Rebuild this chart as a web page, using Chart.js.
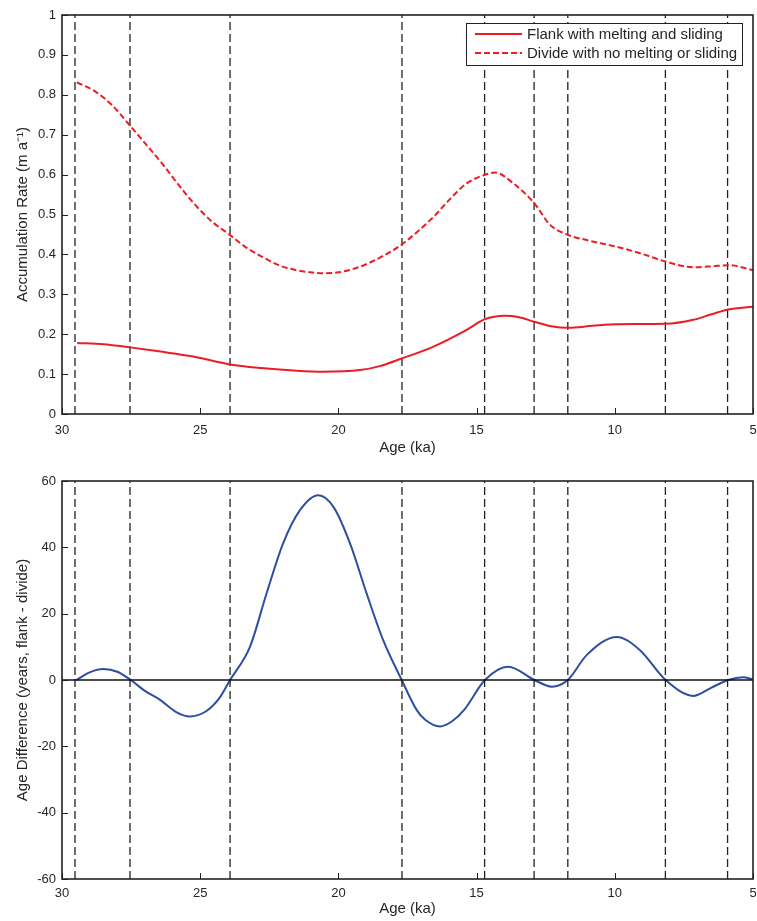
<!DOCTYPE html>
<html><head><meta charset="utf-8">
<script src="https://cdn.jsdelivr.net/npm/chart.js@4.4.0/dist/chart.umd.min.js"></script>
<style>
html,body{margin:0;padding:0;background:#fff;}
#wrap{position:relative;width:757px;height:921px;}
canvas{position:absolute;left:0;}
</style>
</head><body>
<div id="wrap">
<canvas id="c1" width="757" height="460" style="top:0"></canvas>
<canvas id="c2" width="757" height="461" style="top:460px"></canvas>
</div>
<script>
// ---------- data ----------
const xTickLabels = [30, 25, 20, 15, 10, 5];
const eventAges = [29.53, 27.54, 23.92, 17.70, 14.71, 12.92, 11.70, 8.17, 5.92];

const divideAges = [29.46, 28.79, 28.19, 27.53, 26.99, 26.38, 25.78, 25.18, 24.57, 23.93, 23.37, 22.76, 22.16, 21.56, 21.02, 20.55, 20.0, 19.22, 18.5, 17.71, 16.56, 16.0, 15.36, 14.72, 14.33, 13.67, 12.91, 12.34, 11.7, 11.02, 9.93, 9.09, 8.16, 7.16, 6.5, 5.9, 5.0];
const divideRate = [0.831, 0.808, 0.774, 0.722, 0.678, 0.628, 0.574, 0.524, 0.482, 0.449, 0.419, 0.394, 0.373, 0.361, 0.355, 0.353, 0.355, 0.369, 0.392, 0.425, 0.494, 0.536, 0.578, 0.599, 0.605, 0.578, 0.528, 0.474, 0.449, 0.436, 0.419, 0.403, 0.382, 0.368, 0.370, 0.373, 0.361];

const flankAges = [29.45, 28.5, 27.54, 26.5, 25.25, 23.92, 22.8, 21.63, 20.55, 19.22, 18.5, 17.71, 16.56, 15.36, 14.72, 13.97, 13.5, 12.91, 12.3, 11.7, 10.8, 9.93, 8.16, 7.16, 6.5, 5.9, 5.0];
const flankRate = [0.178, 0.175, 0.167, 0.157, 0.144, 0.124, 0.115, 0.109, 0.106, 0.110, 0.120, 0.139, 0.169, 0.211, 0.237, 0.246, 0.243, 0.231, 0.220, 0.216, 0.221, 0.225, 0.226, 0.236, 0.250, 0.262, 0.269];

const diffAges = [29.48, 29.0, 28.5, 28.0, 27.51, 27.0, 26.45, 25.9, 25.37, 24.8, 24.3, 23.92, 23.2, 22.6, 22.0, 21.39, 20.73, 20.18, 19.58, 18.98, 18.38, 17.71, 17.17, 16.86, 16.32, 15.9, 15.45, 14.7, 13.85, 12.91, 12.28, 11.7, 11.02, 9.93, 9.09, 8.16, 7.16, 6.55, 5.9, 5.36, 5.0];
const ageDiff = [0, 2.3, 3.3, 2.5, 0, -3.3, -6, -9.5, -11, -9.5, -5.4, 0, 10, 26.1, 41.2, 51.2, 55.7, 52.2, 41.2, 26.1, 12, 0, -9, -12, -14, -12.5, -9, 0, 4.0, 0, -2.0, 0, 7.5, 13, 9, 0, -4.8, -2.5, 0, 0.8, 0.2];

const seriesLabels = ['Flank with melting and sliding', 'Divide with no melting or sliding'];
const topTitleY = 'Accumulation Rate (m a\u207B\u00B9)';
const bottomTitleY = 'Age Difference (years, flank - divide)';
const titleX = 'Age (ka)';

// ---------- helpers ----------
const FONT = "'Liberation Sans', Arial, Helvetica, sans-serif";
const TXT = '#262626';
const zip = (xs, ys) => xs.map((x, i) => ({x: x, y: ys[i]}));

function eventDatasets(ymin, ymax) {
  return eventAges.map(a => ({
    label: '_event',
    data: [{x: a, y: ymin}, {x: a, y: ymax}],
    borderColor: '#222', borderWidth: 1.3, borderDash: [8, 4],
    pointRadius: 0, fill: false, tension: 0
  }));
}

const framePlugin = {
  id: 'frame',
  afterDatasetsDraw(chart) {
    const {ctx, chartArea: a, scales} = chart;
    ctx.save();
    ctx.strokeStyle = '#222';
    ctx.lineWidth = 1;
    scales.x.ticks.forEach(t => {
      const px = Math.round(scales.x.getPixelForValue(t.value)) + 0.5;
      ctx.beginPath(); ctx.moveTo(px, a.bottom); ctx.lineTo(px, a.bottom - 6); ctx.stroke();
    });
    scales.y.ticks.forEach(t => {
      const py = Math.round(scales.y.getPixelForValue(t.value)) + 0.5;
      ctx.beginPath(); ctx.moveTo(a.left, py); ctx.lineTo(a.left + 6, py); ctx.stroke();
    });
    ctx.lineWidth = 1.6;
    ctx.strokeRect(a.left, a.top, a.right - a.left, a.bottom - a.top);
    ctx.restore();
  }
};

const boxLegendPlugin = {
  id: 'boxLegend',
  afterDraw(chart) {
    const ctx = chart.ctx;
    const items = chart.data.datasets.filter(d => d.label && d.label[0] !== '_');
    ctx.save();
    const left = 466, top = 23, right = 742, bottom = 65;
    ctx.fillStyle = '#fff';
    ctx.fillRect(left, top, right - left, bottom - top);
    ctx.strokeStyle = '#222'; ctx.lineWidth = 1;
    ctx.strokeRect(left + 0.5, top + 0.5, right - left, bottom - top);
    ctx.font = '15px ' + FONT;
    ctx.textBaseline = 'middle';
    ctx.fillStyle = TXT;
    items.forEach((d, i) => {
      const y = 34 + i * 19;
      ctx.strokeStyle = d.borderColor; ctx.lineWidth = d.borderWidth;
      ctx.setLineDash(d.borderDash || []);
      ctx.beginPath(); ctx.moveTo(475, y); ctx.lineTo(522, y); ctx.stroke();
      ctx.setLineDash([]);
      ctx.fillText(d.label, 527, y + 0.5);
    });
    ctx.restore();
  }
};

function xScale(h, pad) {
  return {
    type: 'linear', min: 5, max: 30, reverse: true,
    afterBuildTicks: s => { s.ticks = xTickLabels.map(v => ({value: v})); },
    afterFit: s => { s.height = h; s.paddingLeft = 0; s.paddingRight = 0; },
    grid: {display: false, drawTicks: false},
    border: {display: false},
    ticks: {color: TXT, font: {family: FONT, size: 13}, padding: pad, maxRotation: 0,
            callback: v => String(v)},
    title: {display: true, text: titleX, color: TXT, font: {family: FONT, size: 15},
            padding: {top: 0, bottom: 3}}
  };
}
function yScale(min, max, step, title, fmt) {
  return {
    type: 'linear', min: min, max: max,
    afterFit: s => { s.width = 62; s.paddingTop = 0; s.paddingBottom = 0; },
    grid: {display: false, drawTicks: false},
    border: {display: false},
    ticks: {stepSize: step, color: TXT, font: {family: FONT, size: 13}, padding: 6, callback: fmt},
    title: {display: true, text: title, color: TXT, font: {family: FONT, size: 15},
            padding: {top: 14, bottom: 0}}
  };
}

function baseOptions(topPad) {
  return {
    responsive: false, animation: false, devicePixelRatio: 1,
    layout: {padding: {left: 0, right: 4, top: topPad, bottom: 0}},
    plugins: {legend: {display: false}, tooltip: {enabled: false}},
    elements: {point: {radius: 0}}
  };
}

// ---------- top chart ----------
const opt1 = baseOptions(15);
opt1.scales = {
  x: xScale(46, 9),
  y: yScale(0, 1, 0.1, topTitleY, v => {
    const r = Math.round(v * 10) / 10; return r === 0 ? '0' : (r === 1 ? '1' : r.toFixed(1));
  })
};
new Chart(document.getElementById('c1'), {
  type: 'line',
  data: {datasets: [
    {label: seriesLabels[0], data: zip(flankAges, flankRate), borderColor: 'rgb(237,28,36)', borderWidth: 2,
     cubicInterpolationMode: 'monotone', pointRadius: 0, fill: false},
    {label: seriesLabels[1], data: zip(divideAges, divideRate), borderColor: 'rgb(237,28,36)', borderWidth: 2,
     borderDash: [6, 3], cubicInterpolationMode: 'monotone', pointRadius: 0, fill: false},
    ...eventDatasets(0, 1)
  ]},
  options: opt1,
  plugins: [framePlugin, boxLegendPlugin]
});

// ---------- bottom chart ----------
const opt2 = baseOptions(21);
opt2.scales = {
  x: xScale(42, 7),
  y: yScale(-60, 60, 20, bottomTitleY, v => String(Math.round(v)))
};
new Chart(document.getElementById('c2'), {
  type: 'line',
  data: {datasets: [
    {label: '_zero', data: [{x: 30, y: 0}, {x: 5, y: 0}], borderColor: '#111', borderWidth: 1.5, pointRadius: 0, tension: 0},
    ...eventDatasets(-60, 60),
    {label: '_diff', data: zip(diffAges, ageDiff), borderColor: 'rgb(47,78,160)', borderWidth: 2,
     cubicInterpolationMode: 'monotone', pointRadius: 0, fill: false}
  ]},
  options: opt2,
  plugins: [framePlugin]
});
</script>
</body></html>
